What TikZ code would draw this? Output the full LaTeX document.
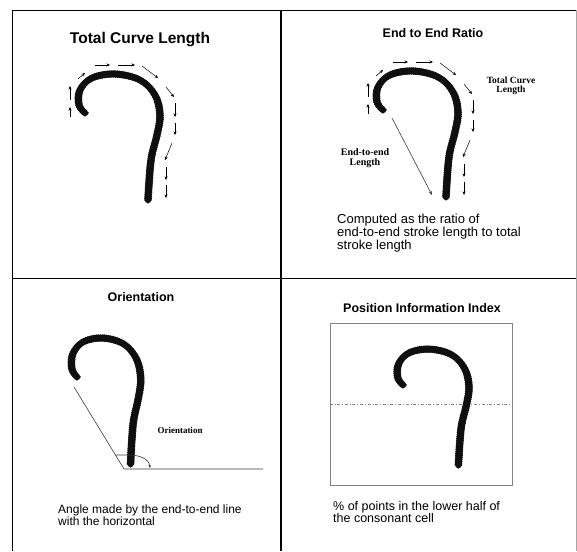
\documentclass[tikz,border=0pt]{standalone}
\usepackage{fontspec}
\newfontfamily\arialfont{Liberation Sans}
\newfontfamily\timesfont{Liberation Serif}
\usetikzlibrary{arrows.meta}
\definecolor{InkBlack}{RGB}{15,15,15}
\definecolor{LineGray}{RGB}{60,60,60}
\definecolor{CellGray}{RGB}{130,130,130}
\tikzset{
	frame/.style={line width=1.6pt, draw=black},
	ink/.style={line width=6.5pt, line cap=round, draw=InkBlack},
	inkedge/.style={line width=1.8pt, line cap=round, draw=InkBlack, dash pattern=on 0.5pt off 1.4pt},
	trace/.style={-{Stealth[length=3.5pt,width=3pt]}, line width=0.5pt, draw=black},
	thinline/.style={line width=0.6pt, draw=LineGray},
	ttl/.style={font=\arialfont\bfseries\fontsize{12.5}{14}\selectfont, inner sep=0pt},
	captext/.style={align=left, anchor=north west, inner sep=0pt},
	lbl/.style={align=center, inner sep=0pt, font=\timesfont\bfseries\fontsize{8.5}{9}\selectfont}
}
% the hand-written stroke, hook end at the origin, #1 and #2 stretch it
\newcommand\hookstroke[2]{plot[smooth, tension=0.6] coordinates {(0,0) ({-6*#1},{-8*#2}) ({-5*#1},{-23*#2})
	({7*#1},{-35*#2}) ({30*#1},{-39*#2}) ({55*#1},{-33*#2}) ({70*#1},{-18*#2}) ({75*#1},{2*#2})
	({72*#1},{22*#2}) ({66*#1},{47*#2}) ({63*#1},{87*#2})}}
\newcommand\drawstroke[2]{%
	\draw[ink] \hookstroke{#1}{#2};
	\draw[inkedge, xshift=3pt] \hookstroke{#1}{#2};
	\draw[inkedge, xshift=-3pt] \hookstroke{#1}{#2};
	\draw[inkedge, yshift=2.8pt] \hookstroke{#1}{#2};
	\draw[inkedge, yshift=-2.8pt] \hookstroke{#1}{#2};}
% small arrows tracing the stroke
\newcommand\strokearrows{%
	\foreach \ax/\ay/\bx/\by in {-15/4/-15/-6, -15/-13/-15/-27, -7/-34/0/-40, 10/-48/25/-48,
		33/-48/50/-48, 57/-47/73/-35, 81/-26/89/-16, 90/-10/90/4, 90/10/90/22,
		87/30/80/47, 81/54/81/67, 81/72/81/85}
	\draw[trace] (\ax,\ay) -- (\bx,\by);}

\begin{document}
\begin{tikzpicture}[x=1pt, y=-1pt]
	\useasboundingbox (0,0) rectangle (577,551);
	% grid of the four panels
	\draw[line width=0.8pt, draw=black!35] (576,10.5) -- (576,551);
	\draw[frame] (12.5,551) |- (576,10.5);
	\draw[frame] (281,10.5) -- (281,551);
	\draw[frame] (12.5,278.5) -- (576,278.5);

	% total curve length
	\node[ttl, font=\arialfont\bfseries\fontsize{15.5}{17}\selectfont] (title1) at (140,40) {Total Curve Length};
	\begin{scope}[shift={(85,113)}]
		\drawstroke{1}{1}
		\strokearrows
	\end{scope}

	% end to end ratio
	\node[ttl] (title2) at (433,33) {End to End Ratio};
	\begin{scope}[shift={(383,110)}]
		\drawstroke{1}{1}
		\strokearrows
	\end{scope}
	\node[lbl, font=\timesfont\bfseries\fontsize{9.5}{9.5}\selectfont] (tcl) at (511,86) {Total Curve\\Length};
	\node[lbl, font=\timesfont\bfseries\fontsize{10}{10.5}\selectfont] (eel) at (365,158) {End-to-end\\Length};
	\coordinate (e2eA) at (392,118);
	\coordinate (e2eB) at (432,195);
	\draw[thinline, -{Stealth[length=4pt,width=3pt]}] (e2eA) -- (e2eB);
	\node[captext, font=\arialfont\fontsize{13}{12}\selectfont] (cap2) at (337,213.5)
	{Computed as the ratio of\\end-to-end stroke length to total\\stroke length};

	% orientation
	\node[ttl] (title3) at (141,297) {Orientation};
	\begin{scope}[shift={(77,377)}]
		\drawstroke{0.85}{1}
	\end{scope}
	\coordinate (oriTop) at (74,387);
	\coordinate (oriBase) at (124,469);
	\coordinate (oriRight) at (263,469);
	\draw[thinline] (oriTop) -- (oriBase) -- (oriRight);
	\draw[thinline, -{Stealth[length=3pt,width=2.5pt]}] (115,455) -- (129,455) to[out=0, in=95] (150,468);
	\node[lbl, font=\timesfont\bfseries\fontsize{9}{9}\selectfont] (orilbl) at (180,430) {Orientation};
	\node[captext, font=\arialfont\fontsize{12}{12.5}\selectfont] (cap3) at (58,504.5)
	{Angle made by the end-to-end line\\with the horizontal};

	% position information index
	\node[ttl] (title4) at (422,308) {Position Information Index};
	\node[draw=CellGray, line width=0.7pt, minimum width=182pt, minimum height=162pt, inner sep=0pt] (cell) at (421,404) {};
	\draw[draw=CellGray, line width=0.6pt, dash dot] (cell.west) -- (cell.east);
	\begin{scope}[shift={(403,385)}]
		\drawstroke{0.88}{0.92}
	\end{scope}
	\node[captext, font=\arialfont\fontsize{12.5}{12}\selectfont] (cap4) at (333,501)
	{\% of points in the lower half of\\the consonant cell};
\end{tikzpicture}
\end{document}
